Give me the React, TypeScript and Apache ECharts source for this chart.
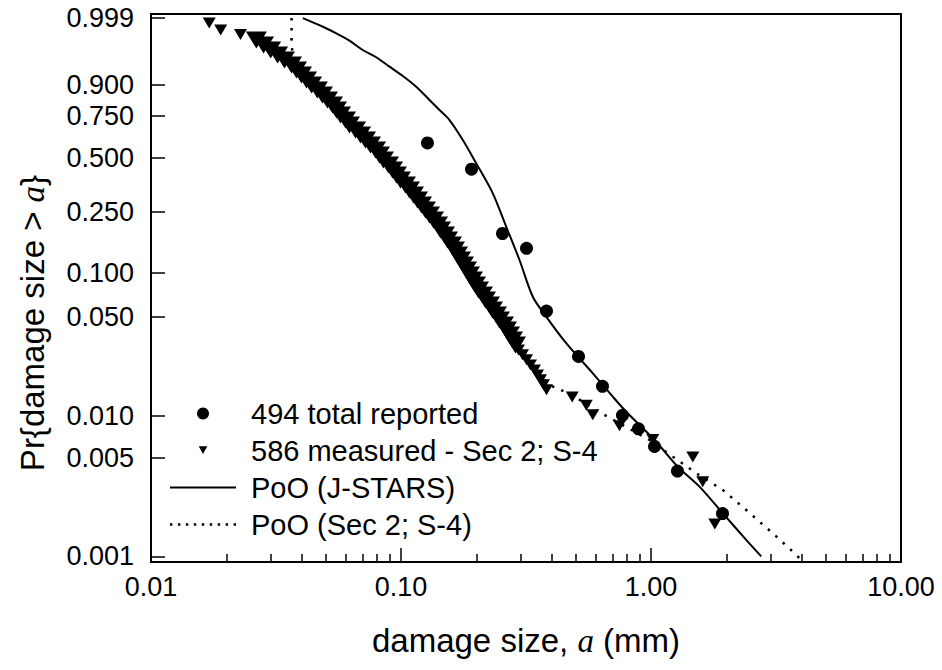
import React, { useEffect, useRef } from "react";
import * as echarts from "echarts";

// ---------- data ----------
const yTickValues = [0.999, 0.9, 0.75, 0.5, 0.25, 0.1, 0.05, 0.01, 0.005, 0.001];
const yTickLabels = ["0.999", "0.900", "0.750", "0.500", "0.250", "0.100", "0.050", "0.010", "0.005", "0.001"];
const xTickValues = [0.01, 0.1, 1, 10];
const xTickLabels = ["0.01", "0.10", "1.00", "10.00"];
const xMinorTickValues = [
  0.02, 0.03, 0.04, 0.05, 0.06, 0.07, 0.08, 0.09,
  0.2, 0.3, 0.4, 0.5, 0.6, 0.7, 0.8, 0.9,
  2, 3, 4, 5, 6, 7, 8, 9,
];

const seriesNames = ["494 total reported", "586 measured - Sec 2; S-4", "PoO (J-STARS)", "PoO (Sec 2; S-4)"];

// [damage size (mm), Pr{damage size > a}]
const reportedPoints: [number, number][] = [
  [0.1276, 0.589], [0.1914, 0.439], [0.2547, 0.182], [0.3177, 0.1457],
  [0.3819, 0.0547], [0.5129, 0.0263], [0.6397, 0.0162], [0.7691, 0.0101],
  [0.891, 0.0081], [1.033, 0.00607], [1.276, 0.00405], [1.932, 0.00202],
];

// measured: isolated points at the top, the dense band, isolated points in the tail
const measuredTop: [number, number][] = [
  [0.0171, 0.9983], [0.019, 0.9966], [0.0228, 0.9949], [0.0259, 0.9931],
];
const measuredBand: [number, number][] = [
  [0.0264, 0.9919], [0.0282, 0.9882], [0.0301, 0.9833], [0.0321, 0.9769], [0.0342, 0.9689],
  [0.0365, 0.9592], [0.0382, 0.9475], [0.04, 0.9337], [0.0419, 0.9179], [0.0439, 0.9],
  [0.0463, 0.8801], [0.0485, 0.8582], [0.0508, 0.8347], [0.0532, 0.8095], [0.0552, 0.7828],
  [0.0573, 0.7551], [0.06, 0.7263], [0.0622, 0.6969], [0.0658, 0.667], [0.0689, 0.6368],
  [0.0721, 0.6066], [0.0755, 0.5766], [0.0791, 0.5469], [0.082, 0.5178], [0.0851, 0.4892],
  [0.0891, 0.4614], [0.0925, 0.4346], [0.0959, 0.4085], [0.0995, 0.3835], [0.1042, 0.3595],
  [0.1081, 0.3366], [0.1122, 0.3148], [0.1164, 0.2941], [0.1208, 0.2745], [0.1253, 0.2559],
  [0.13, 0.2384], [0.1349, 0.2218], [0.14, 0.2063], [0.1439, 0.1917], [0.1493, 0.178],
  [0.1535, 0.1652], [0.1592, 0.1532], [0.1637, 0.142], [0.1683, 0.1316], [0.173, 0.1219],
  [0.1778, 0.1128], [0.1828, 0.1044], [0.1879, 0.0966], [0.1932, 0.0894], [0.1986, 0.0826],
  [0.2042, 0.0764], [0.2118, 0.0706], [0.2178, 0.0652], [0.2259, 0.0602], [0.2323, 0.0556],
  [0.241, 0.0513], [0.2477, 0.0474], [0.257, 0.0437], [0.2642, 0.0403], [0.2716, 0.0372],
  [0.2793, 0.0343], [0.2871, 0.0317],
];
const measuredTail: [number, number][] = [
  [0.2951, 0.0292], [0.3062, 0.027], [0.3177, 0.0249], [0.3296, 0.0229], [0.342, 0.0211],
  [0.3516, 0.0195], [0.3614, 0.018], [0.3715, 0.0166], [0.3819, 0.0153],
  [0.484, 0.0136], [0.551, 0.0119], [0.585, 0.0102], [0.748, 0.0085], [1.017, 0.0068],
  [1.47, 0.0051], [1.61, 0.0034], [1.8, 0.0017],
];

const jstarsCurve: [number, number][] = [
  [0.0405, 0.999], [0.0487, 0.9975], [0.0551, 0.9954], [0.0622, 0.9915], [0.0703, 0.9833],
  [0.0796, 0.9735], [0.09, 0.9554], [0.1017, 0.9308], [0.115, 0.8934], [0.13, 0.835],
  [0.1426, 0.7827], [0.1563, 0.726], [0.1767, 0.6067], [0.1999, 0.4708], [0.2329, 0.322],
  [0.2635, 0.2012], [0.2978, 0.1219], [0.3367, 0.0686], [0.3808, 0.05], [0.4579, 0.0326],
  [0.5853, 0.02], [0.7033, 0.01368], [0.796, 0.0107], [1.033, 0.00674], [1.28, 0.00435],
  [1.563, 0.00314], [1.927, 0.00205], [2.403, 0.00131], [2.759, 0.001],
];

const sec2Curve: [number, number][] = [
  [0.0365, 0.999], [0.0365, 0.9919], [0.0368, 0.977], [0.0378, 0.9652], [0.04, 0.9337],
  [0.0439, 0.9], [0.0508, 0.8347], [0.0622, 0.6969], [0.0791, 0.5469], [0.0995, 0.3835],
  [0.1253, 0.2559], [0.1535, 0.1652], [0.1828, 0.1044], [0.2178, 0.0652], [0.2642, 0.0403],
  [0.3177, 0.0249], [0.3926, 0.01655], [0.484, 0.01407], [0.585, 0.01132], [0.748, 0.00886],
  [0.986, 0.00674], [1.223, 0.00513], [1.516, 0.00391], [1.938, 0.00297], [2.403, 0.00214],
  [3.07, 0.00146], [3.691, 0.00108], [4.0, 0.00094],
];

// ---------- scales ----------
const lx = (x: number) => Math.log10(x);
const wp = (p: number) => Math.log(-Math.log(1 - p)); // Weibull probability scale
const toXY = (pts: [number, number][]) => pts.map(([x, p]) => [lx(x), wp(p)]);

const FONT = "'Liberation Sans', Arial, Helvetica, sans-serif";
const SERIF = "'Liberation Serif', 'Times New Roman', serif";
const TRI = "path://M0,0L12,0L6,10Z";
const LEGEND_TRI = "path://M0,0M15,14M2.5,2L12.5,2L7.5,11Z";
const SOLID_ICON = "path://M0,0L66,0L66,2L0,2Z";
const DOT_ICON =
  "path://" +
  Array.from({ length: 9 }, (_, i) => `M${i * 8},0h2.4v2.4h-2.4Z`).join("");

const yCustom = yTickValues.map(wp);
const xCustom = xTickValues.map(lx);
const xMinorCustom = xMinorTickValues.map(lx);

const nearestLabel = (vals: number[], labels: string[], v: number) => {
  let best = 0;
  vals.forEach((c, i) => {
    if (Math.abs(c - v) < Math.abs(vals[best] - v)) best = i;
  });
  return labels[best];
};

export default function App() {
  const ref = useRef<HTMLDivElement>(null);
  useEffect(() => {
    if (!ref.current) return;
    const chart = echarts.init(ref.current, null, { renderer: "svg" });
    const smallTri = [13, 11];
    const bigTri = [21, 17];
    const measuredData = [
      ...toXY(measuredTop).map((v) => ({ value: v, symbolSize: smallTri })),
      ...toXY(measuredBand).map((v) => ({ value: v, symbolSize: bigTri })),
      ...toXY(measuredTail).map((v) => ({ value: v, symbolSize: smallTri })),
    ];
    const titleStyle = {
      fontSize: 33,
      fontFamily: FONT,
      color: "#000",
      rich: { i: { fontSize: 33, fontFamily: SERIF, fontStyle: "italic", color: "#000" } },
    };
    const option: any = {
      animation: false,
      backgroundColor: "#fff",
      grid: {
        left: 151,
        right: 41,
        top: 14,
        bottom: 108,
        show: true,
        borderColor: "#000",
        borderWidth: 2,
        backgroundColor: "transparent",
        containLabel: false,
        outerBoundsMode: "none",
      },
      xAxis: [
        {
          type: "value",
          min: -2,
          max: 1,
          position: "bottom",
          axisLine: { show: false, onZero: false },
          splitLine: { show: false },
          axisTick: {
            show: true,
            inside: true,
            length: 14,
            customValues: xCustom,
            lineStyle: { color: "#000", width: 1.5 },
          },
          axisLabel: {
            show: true,
            customValues: xCustom,
            formatter: (v: number) => nearestLabel(xCustom, xTickLabels, v),
            fontSize: 27,
            fontFamily: FONT,
            color: "#000",
            margin: 11,
          },
          name: "damage size, {i|a} (mm)",
          nameLocation: "middle",
          nameGap: 62,
          nameTextStyle: titleStyle,
        },
        {
          type: "value",
          min: -2,
          max: 1,
          position: "bottom",
          axisLine: { show: false, onZero: false },
          splitLine: { show: false },
          axisLabel: { show: false },
          axisTick: {
            show: true,
            inside: true,
            length: 8,
            customValues: xMinorCustom,
            lineStyle: { color: "#000", width: 1.5 },
          },
        },
      ],
      yAxis: {
        type: "value",
        min: -7,
        max: 2,
        axisLine: { show: false, onZero: false },
        splitLine: { show: false },
        axisTick: {
          show: true,
          inside: true,
          length: 14,
          customValues: yCustom,
          lineStyle: { color: "#000", width: 1.5 },
        },
        axisLabel: {
          show: true,
          customValues: yCustom,
          formatter: (v: number) => nearestLabel(yCustom, yTickLabels, v),
          fontSize: 27,
          fontFamily: FONT,
          color: "#000",
          margin: 17,
        },
        name: "Pr{damage size > {i|a}}",
        nameLocation: "middle",
        nameGap: 102,
        nameTextStyle: { ...titleStyle, padding: [0, 70, 0, 0] },
      },
      legend: {
        orient: "vertical",
        left: 170,
        top: 399,
        padding: 0,
        itemWidth: 66,
        itemHeight: 12,
        itemGap: 8,
        selectedMode: false,
        data: [
          { name: seriesNames[0] },
          { name: seriesNames[1], icon: LEGEND_TRI },
          { name: seriesNames[2], icon: SOLID_ICON },
          { name: seriesNames[3], icon: DOT_ICON },
        ],
        textStyle: {
          fontSize: 29,
          lineHeight: 29,
          fontFamily: FONT,
          color: "#000",
          padding: [0, 0, 0, 10],
        },
      },
      series: [
        {
          name: seriesNames[2],
          type: "line",
          data: toXY(jstarsCurve),
          symbol: "none",
          smooth: 0.3,
          lineStyle: { color: "#000", width: 2 },
          itemStyle: { color: "#000" },
          z: 2,
        },
        {
          name: seriesNames[3],
          type: "line",
          data: toXY(sec2Curve),
          symbol: "none",
          lineStyle: { color: "#000", width: 2.5, type: [2.5, 7.5] },
          itemStyle: { color: "#000" },
          z: 2,
        },
        {
          name: seriesNames[1],
          type: "scatter",
          data: measuredData,
          symbol: TRI,
          symbolSize: smallTri,
          itemStyle: { color: "#000", opacity: 1 },
          z: 3,
        },
        {
          name: seriesNames[0],
          type: "scatter",
          data: toXY(reportedPoints),
          symbol: "circle",
          symbolSize: 13,
          itemStyle: { color: "#000", opacity: 1 },
          z: 4,
        },
      ],
    };
    chart.setOption(option);
    return () => chart.dispose();
  }, []);
  return (
    <div
      ref={ref}
      style={{ position: "fixed", left: 0, top: 0, width: 942, height: 670, background: "#fff" }}
    />
  );
}
